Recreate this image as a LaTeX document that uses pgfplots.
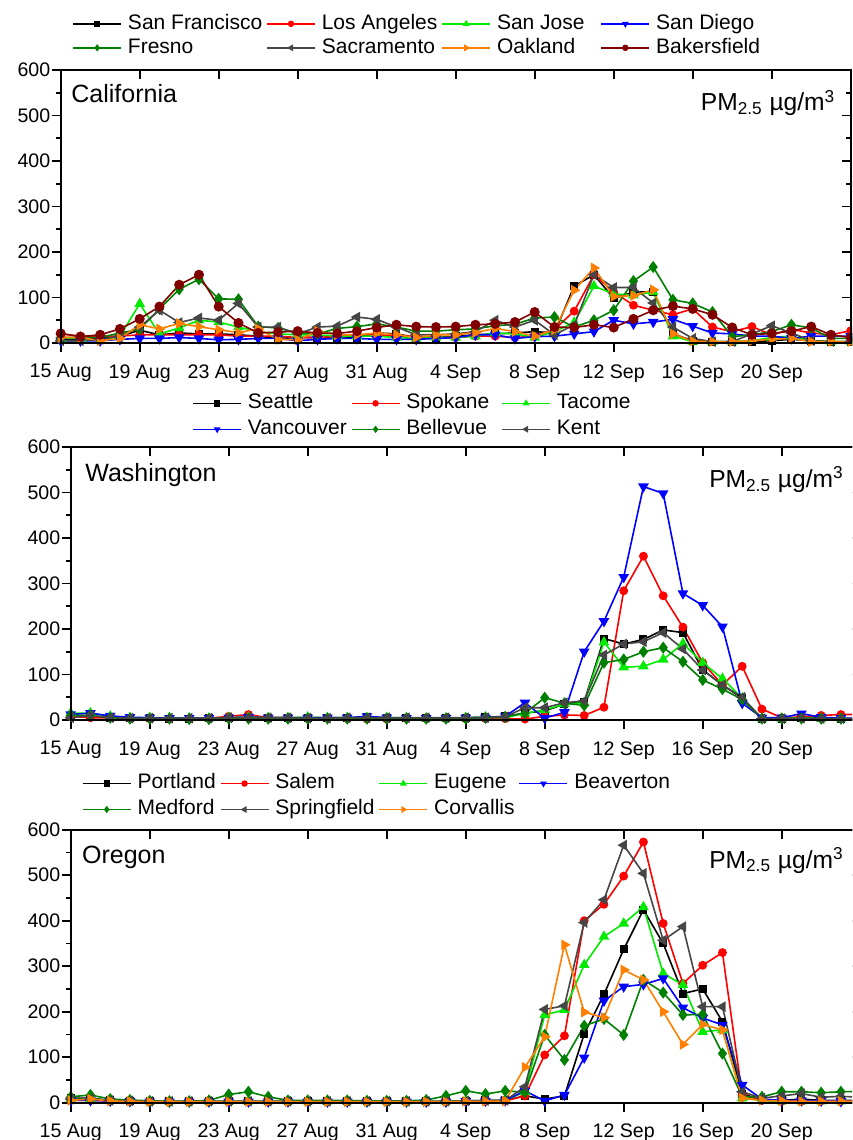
\documentclass[border=0pt]{standalone}
\usepackage{fontspec}
\setmainfont{Liberation Sans}
\usepackage{pgfplots}
\usepackage{pgfplotstable}
\pgfplotsset{compat=1.18}

\definecolor{cLime}{RGB}{0,235,0}
\definecolor{cGreen}{RGB}{0,128,0}
\definecolor{cGray}{RGB}{70,70,70}
\definecolor{cOrange}{RGB}{255,128,0}
\definecolor{cDRed}{RGB}{128,0,0}

\pgfplotstableread{
d SF LA SJ SD FR SA OA BA
0 8 20 10 5 12 5 12 21
1 8 15 10 5 12 5 12 14
2 10 15 5 5 12 8 5 18
3 15 15 15 8 22 15 10 31
4 28 18 86 10 30 35 40 53
5 18 18 20 10 75 72 31 80
6 22 18 33 12 118 45 43 128
7 20 18 50 10 140 55 36 150
8 20 18 46 7 97 50 29 80
9 18 15 35 8 96 87 23 44
10 15 15 25 10 36 35 31 22
11 10 15 20 10 33 35 8 24
12 12 12 18 5 22 20 7 26
13 12 12 18 8 20 35 26 22
14 10 15 15 10 32 37 18 21
15 12 18 15 10 36 57 18 26
16 22 18 15 8 42 52 22 34
17 20 15 12 8 35 35 18 40
18 12 15 10 8 26 18 12 36
19 12 12 12 10 26 18 18 35
20 15 12 12 12 29 20 18 36
21 18 15 15 18 31 25 23 40
22 20 15 22 18 38 50 32 42
23 22 12 20 10 41 35 25 46
24 25 15 12 14 55 50 15 68
25 22 30 25 15 57 18 29 35
26 125 70 45 20 35 40 116 34
27 150 150 125 25 50 150 165 40
28 98 112 108 50 72 122 102 34
29 112 83 105 42 136 122 104 53
30 112 72 112 46 167 88 117 72
31 20 62 15 52 95 35 20 81
32 5 75 3 37 87 10 4 75
33 3 35 3 22 68 3 3 62
34 3 25 3 20 14 3 3 34
35 3 36 5 15 18 20 5 18
36 5 18 12 15 25 38 8 21
37 8 30 15 10 40 22 10 26
38 5 22 5 15 33 5 3 36
39 3 18 3 15 10 3 3 18
40 3 27 3 15 10 3 3 12
}\tabCA

\pgfplotstableread{
d SE SP TA VA BE KE
0 8 8 15 12 10 5
1 8 5 15 15 10 10
2 5 5 8 9 5 5
3 5 4 5 6 3 4
4 4 3 5 5 3 4
5 3 3 5 4 3 4
6 3 3 4 4 2 4
7 4 4 4 4 2 4
8 5 8 5 5 3 5
9 6 12 6 6 3 5
10 5 5 5 5 3 5
11 5 5 5 5 3 5
12 5 4 6 5 3 4
13 5 4 5 5 3 4
14 5 3 5 5 3 5
15 6 2 5 8 3 5
16 5 2 5 5 3 5
17 4 3 5 4 3 5
18 4 3 4 4 3 5
19 4 3 4 4 3 5
20 5 3 5 5 3 5
21 6 3 6 5 5 5
22 8 3 5 8 7 7
23 15 2 15 38 15 27
24 20 8 22 4 49 27
25 35 11 35 17 37 38
26 40 10 38 150 32 42
27 179 28 171 217 126 143
28 167 284 116 314 133 167
29 177 360 118 513 150 172
30 198 273 133 498 159 192
31 192 204 168 278 128 156
32 110 126 126 252 88 110
33 77 77 91 205 68 77
34 48 118 48 37 45 50
35 3 24 3 5 3 3
36 3 5 3 5 3 3
37 5 7 5 14 3 4
38 4 10 3 6 3 3
39 3 12 3 4 3 3
40 3 12 3 4 3 3
}\tabWA

\pgfplotstableread{
d PO SA EU BV ME SP CO
0 10 5 8 5 13 8 5
1 10 5 8 5 17 8 8
2 5 4 5 4 8 5 4
3 4 3 4 3 6 4 3
4 3 2 3 2 4 3 2
5 3 2 3 2 3 3 2
6 3 2 3 2 3 3 2
7 3 2 3 2 5 3 2
8 3 2 3 2 18 3 2
9 3 2 3 2 24 3 2
10 3 2 3 2 13 3 2
11 3 2 3 2 5 3 2
12 3 2 3 2 5 3 2
13 3 2 3 2 5 3 2
14 3 2 3 2 5 3 2
15 3 2 3 2 4 3 2
16 3 2 3 2 4 3 2
17 3 2 3 2 4 3 2
18 3 2 3 2 6 3 2
19 3 2 3 2 15 3 2
20 4 3 4 3 26 4 3
21 5 3 4 4 19 5 3
22 5 4 5 5 26 5 4
23 15 15 24 26 23 35 78
24 8 105 193 4 149 205 145
25 15 147 204 17 94 213 347
26 151 400 303 99 169 396 199
27 238 436 365 224 184 446 187
28 337 498 394 255 149 566 292
29 424 573 430 260 270 504 270
30 350 394 284 273 242 357 200
31 240 262 259 209 193 387 128
32 250 302 156 186 194 211 172
33 178 330 160 171 108 211 160
34 20 17 10 39 13 24 10
35 5 5 5 8 13 10 5
36 5 3 3 5 24 15 4
37 8 3 3 5 24 20 3
38 5 4 3 4 22 12 3
39 5 4 3 3 24 14 3
40 5 4 3 3 25 12 3
}\tabOR

\pgfplotsset{
 s1/.style={black, mark=square*, mark size=1.6pt},
 s2/.style={red, mark=*, mark size=1.8pt},
 s3/.style={cLime, mark=triangle*, mark size=2.3pt},
 s4/.style={blue, mark=triangle*, mark size=2.3pt, mark options={rotate=180}},
 s5/.style={cGreen, mark=diamond*, mark size=2.4pt},
 s6/.style={cGray, mark=triangle*, mark size=2.3pt, mark options={rotate=90}},
 s7/.style={cOrange, mark=triangle*, mark size=2.3pt, mark options={rotate=-90}},
 s8/.style={cDRed, mark=*, mark size=2.1pt},
 base/.style={scale only axis, width=395pt, height=136.5pt,
   xmin=0, xmax=40, ymin=0, ymax=600,
   xtick={0,4,...,36}, ytick={0,100,...,600}, minor y tick num=1,
   major tick length=4.5pt, minor tick length=2.5pt,
   axis line style={line width=0.9pt},
   every tick/.append style={black, line width=0.9pt}},
 main/.style={base, tick align=outside, xtick pos=left, ytick pos=left,
   xticklabels={15 Aug,19 Aug,23 Aug,27 Aug,31 Aug,4 Sep,8 Sep,12 Sep,16 Sep,20 Sep},
   tick label style={font=\fontsize{9.8}{11}\selectfont},
   /pgf/number format/assume math mode=true,
   yticklabel style={inner sep=0.5pt},
   xticklabel style={inner sep=0pt, yshift=-6pt},
   every axis plot/.append style={line width=0.8pt},
   legend cell align=left,
   legend style={draw=none, fill=none, inner sep=0pt, anchor=north west,
     font=\fontsize{10.5}{12}\selectfont,
     nodes={inner sep=0pt, text height=7.9pt, text depth=2.6pt},
     /tikz/every odd column/.append style={column sep=3pt},
     /tikz/every even column/.append style={column sep=2pt}},
   legend image code/.code={\draw[mark repeat=2,mark phase=2,##1,mark size=1.2pt] plot coordinates {(0pt,0pt) (12pt,0pt) (24pt,0pt)};}},
 mirror/.style={base, tick align=inside, xtick pos=right, ytick pos=right,
   xticklabels={}, yticklabels={}},
}
\tikzset{
 plab/.style={anchor=base west, inner sep=0pt, font=\fontsize{12.5}{14}\selectfont},
 pmlab/.style={anchor=base east, inner sep=0pt, font=\fontsize{12.3}{14}\selectfont},
}

\newcommand{\pmlabel}{PM\textsubscript{2.5} µg/m\textsuperscript{3}}

\begin{document}
\begin{tikzpicture}
\useasboundingbox (0pt,0pt) rectangle (426pt,570pt);
\begin{scope}
\clip (0pt,0pt) rectangle (426pt,570pt);
% ---------- California ----------
\begin{axis}[main, at={(30.35pt,398.5pt)}, anchor=south west,
  legend columns=4, legend style={at={(0.0143,1.209)}, row sep=1.5pt}]
\addplot[s1] table[x=d,y=SF] {\tabCA};
\addplot[s2] table[x=d,y=LA] {\tabCA};
\addplot[s3] table[x=d,y=SJ] {\tabCA};
\addplot[s4] table[x=d,y=SD] {\tabCA};
\addplot[s5] table[x=d,y=FR] {\tabCA};
\addplot[s6] table[x=d,y=SA] {\tabCA};
\addplot[s7] table[x=d,y=OA] {\tabCA};
\addplot[s8] table[x=d,y=BA] {\tabCA};
\legend{San Francisco,Los Angeles,San Jose\rule{6pt}{0pt},San Diego,Fresno,Sacramento,Oakland,Bakersfield}
\node[plab, xshift=5.15pt, yshift=-16.35pt] at (rel axis cs:0,1) {California};
\node[pmlab, xshift=-7.5pt, yshift=-20.5pt] at (rel axis cs:1,1) {\pmlabel};
\end{axis}
\begin{axis}[mirror, at={(30.35pt,398.5pt)}, anchor=south west]
\end{axis}
% ---------- Washington ----------
\begin{axis}[main, at={(35.35pt,210pt)}, anchor=south west,
  legend columns=3, legend style={at={(0.1535,1.2)}, row sep=2.5pt}]
\addplot[s1] table[x=d,y=SE] {\tabWA};
\addplot[s2] table[x=d,y=SP] {\tabWA};
\addplot[s3] table[x=d,y=TA] {\tabWA};
\addplot[s4] table[x=d,y=VA] {\tabWA};
\addplot[s5] table[x=d,y=BE] {\tabWA};
\addplot[s6] table[x=d,y=KE] {\tabWA};
\legend{Seattle,Spokane\rule{4pt}{0pt},Tacome,Vancouver,Bellevue,Kent}
\node[plab, xshift=7.15pt, yshift=-17.5pt] at (rel axis cs:0,1) {Washington};
\node[pmlab, xshift=-8.3pt, yshift=-20.2pt] at (rel axis cs:1,1) {\pmlabel};
\end{axis}
\begin{axis}[mirror, at={(35.35pt,210pt)}, anchor=south west]
\end{axis}
% ---------- Oregon ----------
\begin{axis}[main, at={(35.35pt,18.65pt)}, anchor=south west,
  legend columns=4, legend style={at={(0.0137,1.209)}, row sep=2.5pt}]
\addplot[s1] table[x=d,y=PO] {\tabOR};
\addplot[s2] table[x=d,y=SA] {\tabOR};
\addplot[s3] table[x=d,y=EU] {\tabOR};
\addplot[s4] table[x=d,y=BV] {\tabOR};
\addplot[s5] table[x=d,y=ME] {\tabOR};
\addplot[s6] table[x=d,y=SP] {\tabOR};
\addplot[s7] table[x=d,y=CO] {\tabOR};
\legend{Portland,Salem,Eugene,Beaverton,Medford,Springfield,Corvallis}
\node[plab, xshift=5.5pt, yshift=-16.8pt] at (rel axis cs:0,1) {Oregon};
\node[pmlab, xshift=-8.3pt, yshift=-19.2pt] at (rel axis cs:1,1) {\pmlabel};
\end{axis}
\begin{axis}[mirror, at={(35.35pt,18.65pt)}, anchor=south west]
\end{axis}
\end{scope}
\end{tikzpicture}
\end{document}
